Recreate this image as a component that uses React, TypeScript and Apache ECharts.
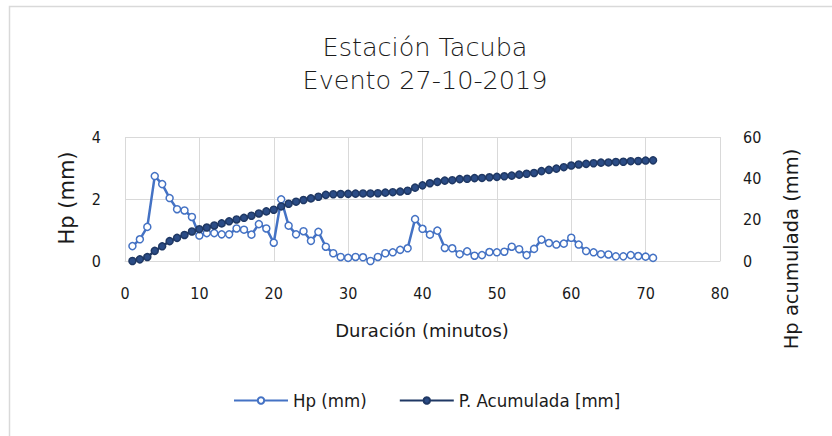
import React, { useEffect, useRef } from "react";
import * as echarts from "echarts";

const minutes = [
  1, 2, 3, 4, 5, 6, 7, 8, 9, 10, 11, 12, 13, 14, 15, 16, 17, 18, 19, 20,
  21, 22, 23, 24, 25, 26, 27, 28, 29, 30, 31, 32, 33, 34, 35, 36, 37, 38, 39, 40,
  41, 42, 43, 44, 45, 46, 47, 48, 49, 50, 51, 52, 53, 54, 55, 56, 57, 58, 59, 60,
  61, 62, 63, 64, 65, 66, 67, 68, 69, 70, 71,
];

const hp = [
  0.48, 0.7, 1.1, 2.74, 2.48, 2.03, 1.67, 1.63, 1.42, 0.82,
  0.9, 0.9, 0.86, 0.86, 1.05, 1.01, 0.85, 1.19, 1.05, 0.59,
  1.99, 1.14, 0.86, 0.96, 0.65, 0.94, 0.46, 0.25, 0.13, 0.1,
  0.13, 0.12, 0.0, 0.13, 0.25, 0.28, 0.36, 0.41, 1.35, 1.04,
  0.85, 0.98, 0.42, 0.41, 0.22, 0.31, 0.17, 0.19, 0.29, 0.28,
  0.3, 0.46, 0.38, 0.19, 0.39, 0.69, 0.58, 0.53, 0.56, 0.75,
  0.53, 0.32, 0.28, 0.22, 0.21, 0.15, 0.15, 0.19, 0.16, 0.14,
  0.1,
];

const pAcumulada = [
  0, 0.8, 1.9, 4.9, 7.1, 9.6, 11.2, 12.6, 14.3, 15.4,
  16.2, 17.2, 18.2, 19.2, 20.1, 20.9, 21.9, 23.0, 24.0, 24.8,
  26.4, 27.7, 28.7, 29.5, 30.3, 31.1, 32.0, 32.3, 32.4, 32.5,
  32.6, 32.7, 32.7, 32.8, 33.1, 33.3, 33.6, 34.0, 35.5, 36.6,
  37.6, 38.3, 38.9, 39.1, 39.6, 39.8, 40.1, 40.2, 40.5, 40.7,
  41.0, 41.3, 41.8, 42.2, 42.6, 43.5, 44.1, 44.7, 45.4, 46.2,
  46.7, 47.0, 47.3, 47.6, 47.7, 47.9, 48.0, 48.3, 48.4, 48.6,
  48.7,
];

const titleLines = ["Estación Tacuba", "Evento 27-10-2019"];
const seriesNames = ["Hp (mm)", "P. Acumulada [mm]"];
const xName = "Duración (minutos)";
const yLeftName = "Hp (mm)";
const yRightName = "Hp acumulada (mm)";

const WIDE = '"DejaVu Sans", sans-serif';
const NARROW = '"DejaVu Sans Condensed", "DejaVu Sans", sans-serif';
const TEXT = "#1a1a1a";
const GRID = "#D9D9D9";

export default function App() {
  const ref = useRef<HTMLDivElement>(null);

  useEffect(() => {
    if (!ref.current) return;
    const chart = echarts.init(ref.current, null, { renderer: "svg" });
    const hpData = minutes.map((m, i) => [m, hp[i]]);
    const cumData = minutes.map((m, i) => [m, pAcumulada[i]]);

    const nameStyle = (size: number, weight: number) => ({
      fontFamily: WIDE,
      fontWeight: weight,
      fontSize: size,
      fill: TEXT,
      align: "center",
      verticalAlign: "middle",
    });

    chart.setOption({
      animation: false,
      backgroundColor: "#ffffff",
      grid: { left: 125, right: 112, top: 137, bottom: 175 },
      legend: {
        left: 233,
        top: 391,
        padding: 0,
        itemWidth: 54,
        itemHeight: 8,
        itemGap: 32,
        textStyle: { fontFamily: NARROW, fontSize: 18.5, color: TEXT },
        data: seriesNames,
      },
      xAxis: {
        type: "value",
        min: 0,
        max: 80,
        interval: 10,
        axisLine: { show: true, lineStyle: { color: GRID, width: 1 } },
        axisTick: { show: false },
        splitLine: { show: true, lineStyle: { color: GRID, width: 1 } },
        axisLabel: { fontFamily: NARROW, fontSize: 16, color: TEXT, margin: 24 },
      },
      yAxis: [
        {
          type: "value",
          position: "left",
          min: 0,
          max: 4,
          interval: 2,
          axisLine: { show: false },
          axisTick: { show: false },
          splitLine: { show: true, lineStyle: { color: GRID, width: 1 } },
          axisLabel: { fontFamily: NARROW, fontSize: 16, color: TEXT, margin: 24 },
        },
        {
          type: "value",
          position: "right",
          min: 0,
          max: 60,
          interval: 20,
          axisLine: { show: false },
          axisTick: { show: false },
          splitLine: { show: false },
          axisLabel: { fontFamily: NARROW, fontSize: 16, color: TEXT, margin: 23 },
        },
      ],
      series: [
        {
          name: seriesNames[0],
          type: "line",
          yAxisIndex: 0,
          data: hpData,
          symbol: "circle",
          symbolSize: 7,
          showAllSymbol: true,
          lineStyle: { color: "#4472C4", width: 2.5 },
          itemStyle: { color: "#FFFFFF", borderColor: "#4472C4", borderWidth: 1.5 },
        },
        {
          name: seriesNames[1],
          type: "line",
          yAxisIndex: 1,
          data: cumData,
          symbol: "circle",
          symbolSize: 7,
          showAllSymbol: true,
          lineStyle: { color: "#1F3864", width: 2.5 },
          itemStyle: { color: "#2B4C86", borderColor: "#1F3864", borderWidth: 1.5 },
        },
      ],
      graphic: [
        {
          type: "rect",
          shape: { x: 9.5, y: 6.5, width: 1000, height: 1000 },
          style: { fill: "none", stroke: GRID, lineWidth: 1.5 },
          silent: true,
        },
        { type: "text", x: 425, y: 47, style: { text: titleLines[0], ...nameStyle(25.5, 300) } },
        { type: "text", x: 425, y: 80, style: { text: titleLines[1], ...nameStyle(25.5, 300) } },
        { type: "text", x: 422, y: 330, style: { text: xName, ...nameStyle(18, 400) } },
        {
          type: "text",
          x: 67,
          y: 198,
          rotation: Math.PI / 2,
          style: { text: yLeftName, ...nameStyle(21, 400) },
        },
        {
          type: "text",
          x: 791,
          y: 249,
          rotation: Math.PI / 2,
          style: { text: yRightName, ...nameStyle(19.5, 400) },
        },
      ],
    });

    return () => chart.dispose();
  }, []);

  return (
    <div
      ref={ref}
      style={{ position: "absolute", left: 0, top: 0, width: 832, height: 436 }}
    />
  );
}
